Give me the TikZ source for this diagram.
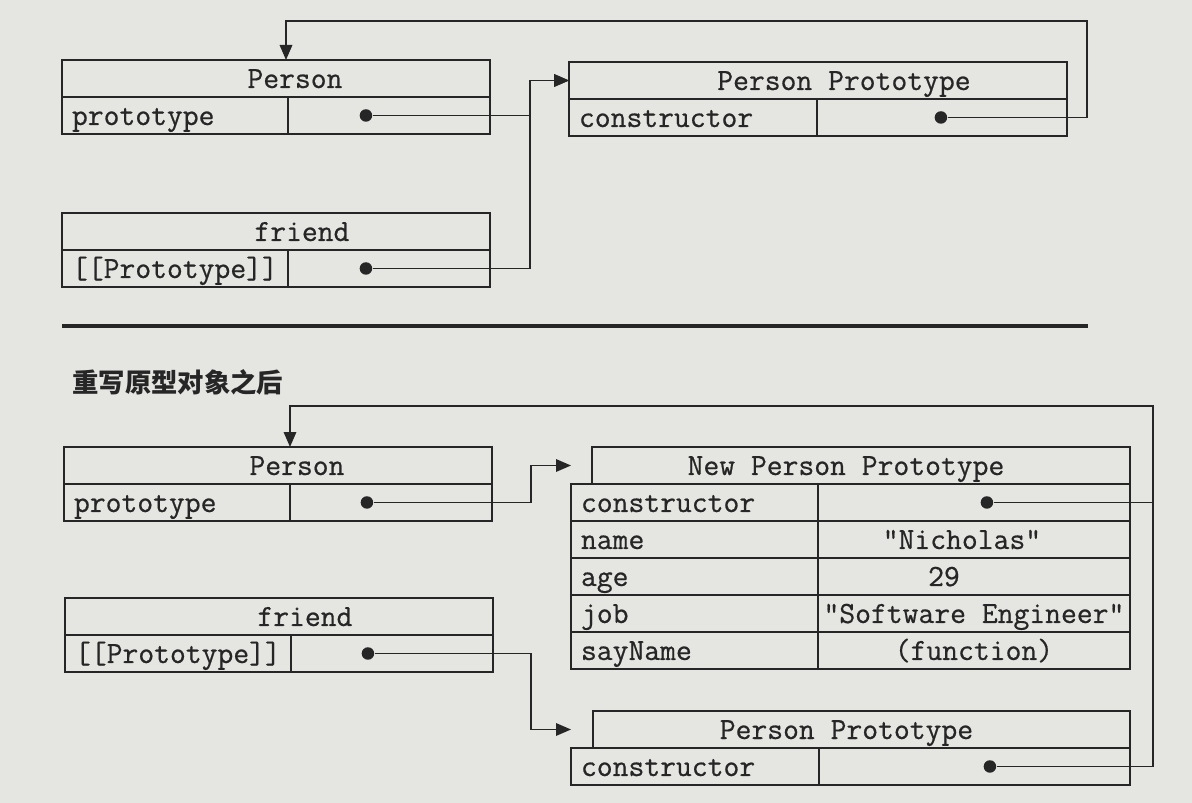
\documentclass[tikz,border=0pt]{standalone}
\usepackage{fontspec}
\newfontfamily\cjk{Noto Sans CJK SC}
\newfontfamily\codefont{Latin Modern Mono}[FakeBold=0.6]
\usetikzlibrary{arrows.meta,calc}
\definecolor{page}{RGB}{229,229,226}
\definecolor{ink}{RGB}{38,38,38}

\tikzset{
  cell/.style={draw=ink, line width=1.1pt, anchor=north west, inner sep=0, outer sep=0,
    minimum height=0.74cm, text height=0.46cm, text depth=0.08cm,
    text=ink, font=\fontsize{17.5}{20}\selectfont\codefont},
  head/.style={cell, minimum width=#1},
  key/.style={cell, inner xsep=0.2cm, text width=#1, align=left},
  val/.style={cell, minimum width=#1},
  nudge/.style={execute at begin node=\hspace*{#1}},
  dot/.style={circle, fill=ink, inner sep=0, minimum size=0.25cm},
  ref/.style={draw=ink, line width=1pt},
  ptr/.style={ref, -{Triangle[length=0.3cm,width=0.25cm]}},
}

\begin{document}
\begin{tikzpicture}[x=0.02cm,y=-0.02cm]
  \fill[page] (0,0) rectangle (1192,803);

  % before the prototype is rewritten
  \node[head=8.56cm, nudge=0.76cm] (ph) at (62,60) {Person};
  \node[key=4.12cm] (pk) at (ph.south west) {prototype};
  \node[val=4.04cm] (pv) at (pk.north east) {};
  \node[dot, xshift=1.56cm] (pd) at (pv.west) {};

  \node[head=8.56cm, nudge=1.04cm] (fh) at (62,213) {friend};
  \node[key=4.12cm] (fk) at (fh.south west) {[[Prototype]]};
  \node[val=4.04cm] (fv) at (fk.north east) {};
  \node[dot, xshift=1.56cm] (fd) at (fv.west) {};

  \node[head=9.96cm, nudge=1.04cm] (pph) at (569,62) {Person Prototype};
  \node[key=4.56cm] (ppk) at (pph.south west) {constructor};
  \node[val=5cm] (ppv) at (ppk.north east) {};
  \node[dot, xshift=2.48cm] (ppd) at (ppv.west) {};

  \coordinate (tj) at (530,0);
  \coordinate (tl) at (286,21);
  \coordinate (tr) at (1087,21);
  \draw[ptr] (pd) -- (pd -| tj) |- (pph.west);
  \draw[ptr] (fd) -- (fd -| tj) |- (pph.west);
  \draw[ptr] (ppd) -- (ppd -| tr) -- (tr) -- (tl) -- (tl |- ph.north);

  \draw[ink, line width=2pt] (62,326) -- (1088,326);

  % after the prototype is rewritten
  \node[anchor=west, inner sep=0, text=ink, font=\fontsize{15}{17}\selectfont\cjk\bfseries] (title) at (72,382) {重写原型对象之后};

  \node[head=8.56cm, nudge=0.76cm] (bph) at (64,447) {Person};
  \node[key=4.12cm] (bpk) at (bph.south west) {prototype};
  \node[val=4.04cm] (bpv) at (bpk.north east) {};
  \node[dot, xshift=1.54cm] (bpd) at (bpv.west) {};

  \node[head=8.56cm, nudge=1.04cm] (bfh) at (65,598) {friend};
  \node[key=4.12cm] (bfk) at (bfh.south west) {[[Prototype]]};
  \node[val=4.04cm] (bfv) at (bfk.north east) {};
  \node[dot, xshift=1.54cm] (bfd) at (bfv.west) {};

  \node[head=10.76cm, nudge=-0.6cm] (nph) at (592,447) {New Person Prototype};
  \node[key=4.54cm, xshift=-0.42cm] (npk1) at (nph.south west) {constructor};
  \node[val=6.24cm] (npv1) at (npk1.north east) {};
  \node[key=4.54cm] (npk2) at (npk1.south west) {name};
  \node[val=6.24cm, nudge=-0.48cm] (npv2) at (npk2.north east) {"Nicholas"};
  \node[key=4.54cm] (npk3) at (npk2.south west) {age};
  \node[val=6.24cm, nudge=-1.2cm] (npv3) at (npk3.north east) {29};
  \node[key=4.54cm] (npk4) at (npk3.south west) {job};
  \node[val=6.24cm] (npv4) at (npk4.north east) {"Software Engineer"};
  \node[key=4.54cm] (npk5) at (npk4.south west) {sayName};
  \node[val=6.24cm] (npv5) at (npk5.north east) {(function)};
  \node[dot, xshift=3.38cm] (npd) at (npv1.west) {};

  \node[head=10.74cm, nudge=-0.6cm] (oph) at (593,711) {Person Prototype};
  \node[key=4.56cm, xshift=-0.44cm] (opk) at (oph.south west) {constructor};
  \node[val=6.22cm] (opv) at (opk.north east) {};
  \node[dot, xshift=3.42cm] (opd) at (opv.west) {};

  \coordinate (bj) at (531,0);
  \coordinate (bl) at (290,406);
  \coordinate (br) at (1153,406);
  \draw[ptr] (bpd) -- (bpd -| bj) |- (nph.west -| npk1.west);
  \draw[ptr] (bfd) -- (bfd -| bj) |- (oph.west -| opk.west);
  \draw[ptr] (npd) -- (npd -| br) -- (br) -- (bl) -- (bl |- bph.north);
  \draw[ref] (opd) -- (opd -| br) -- (npd -| br);
\end{tikzpicture}
\end{document}
